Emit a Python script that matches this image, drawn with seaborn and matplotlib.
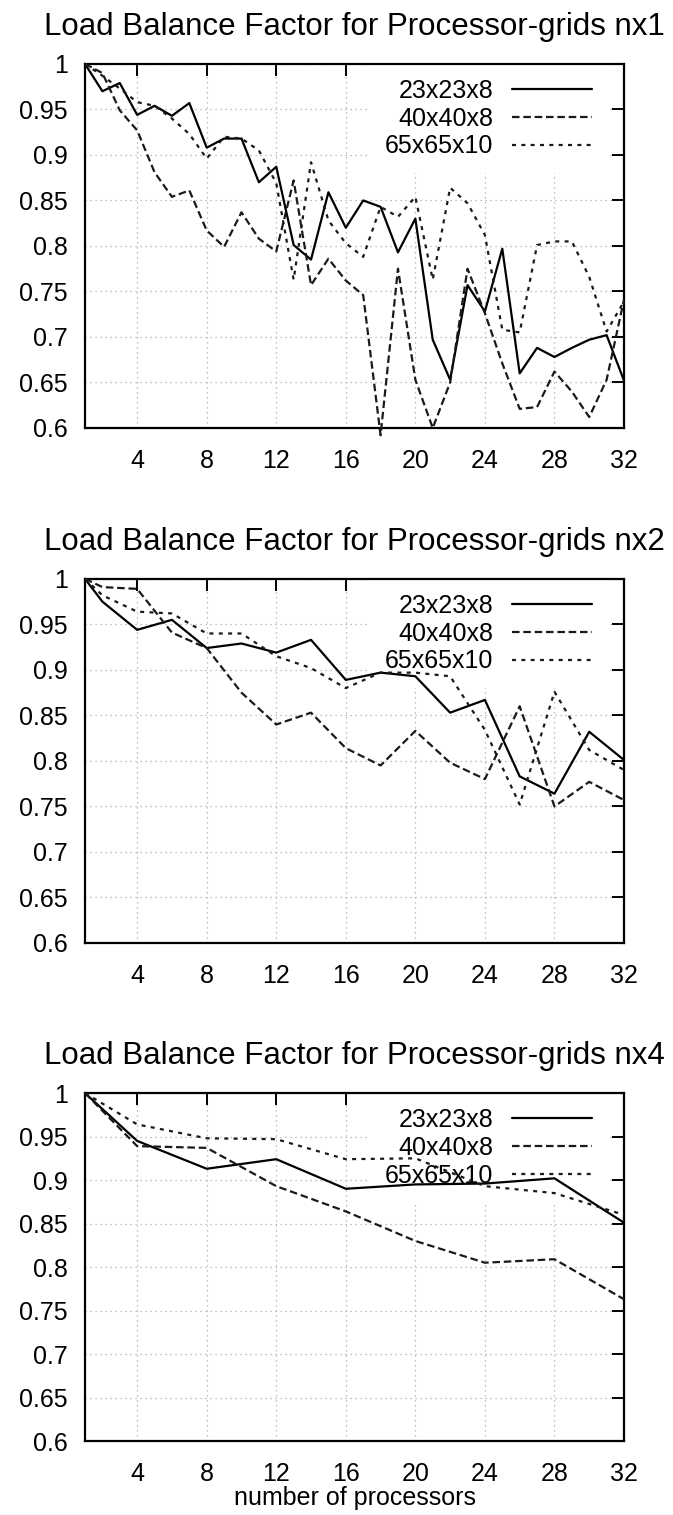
import matplotlib
matplotlib.use("Agg")
import matplotlib.pyplot as plt
import matplotlib.ticker as mticker
import pandas as pd
import seaborn as sns

# ---------------- data ----------------
series_names = ["23x23x8", "40x40x8", "65x65x10"]
panel_titles = ["Load Balance Factor for Processor-grids nx1",
                "Load Balance Factor for Processor-grids nx2",
                "Load Balance Factor for Processor-grids nx4"]
x_label = "number of processors"

x_nx1 = list(range(1, 33))
nx1_23 = [1.000, 0.970, 0.979, 0.944, 0.954, 0.943, 0.957, 0.908, 0.918, 0.918, 0.870, 0.887, 0.801, 0.785, 0.859, 0.820,
          0.850, 0.843, 0.793, 0.830, 0.697, 0.653, 0.757, 0.728, 0.797, 0.660, 0.688, 0.678, 0.688, 0.697, 0.702, 0.652]
nx1_40 = [1.000, 0.990, 0.949, 0.927, 0.881, 0.854, 0.861, 0.817, 0.799, 0.837, 0.808, 0.794, 0.872, 0.757, 0.786, 0.762,
          0.746, 0.592, 0.775, 0.653, 0.600, 0.650, 0.775, 0.726, 0.671, 0.621, 0.623, 0.662, 0.640, 0.612, 0.653, 0.741]
nx1_65 = [1.000, 0.987, 0.973, 0.958, 0.954, 0.940, 0.923, 0.896, 0.920, 0.918, 0.905, 0.869, 0.763, 0.892, 0.828, 0.803,
          0.788, 0.843, 0.832, 0.854, 0.763, 0.864, 0.847, 0.812, 0.708, 0.705, 0.801, 0.805, 0.805, 0.766, 0.706, 0.739]

x_nx2 = [1, 2, 4, 6, 8, 10, 12, 14, 16, 18, 20, 22, 24, 26, 28, 30, 32]
nx2_23 = [1.000, 0.975, 0.944, 0.955, 0.924, 0.929, 0.919, 0.933, 0.889, 0.897, 0.893, 0.853, 0.867, 0.783, 0.764, 0.832, 0.801]
nx2_40 = [1.000, 0.991, 0.989, 0.941, 0.924, 0.875, 0.840, 0.853, 0.814, 0.795, 0.833, 0.798, 0.780, 0.860, 0.750, 0.777, 0.757]
nx2_65 = [1.000, 0.982, 0.964, 0.962, 0.940, 0.940, 0.915, 0.902, 0.880, 0.897, 0.897, 0.893, 0.834, 0.752, 0.876, 0.812, 0.790]

x_nx4 = [1, 4, 8, 12, 16, 20, 24, 28, 32]
nx4_23 = [1.000, 0.945, 0.913, 0.924, 0.890, 0.895, 0.896, 0.902, 0.851]
nx4_40 = [1.000, 0.939, 0.937, 0.893, 0.864, 0.830, 0.805, 0.809, 0.763]
nx4_65 = [1.000, 0.964, 0.948, 0.947, 0.924, 0.925, 0.893, 0.885, 0.860]

x_ticks = [4, 8, 12, 16, 20, 24, 28, 32]
y_ticks = [0.6, 0.65, 0.7, 0.75, 0.8, 0.85, 0.9, 0.95, 1.0]

panels = [
    (x_nx1, [nx1_23, nx1_40, nx1_65]),
    (x_nx2, [nx2_23, nx2_40, nx2_65]),
    (x_nx4, [nx4_23, nx4_40, nx4_65]),
]

# ---------------- style ----------------
sns.set_theme(style="white")
plt.rcParams["font.family"] = ["Liberation Sans", "DejaVu Sans"]

LW = 1.6
line_styles = [
    dict(linestyle="-", color="black"),
    dict(linestyle=(0, (3.4, 1.7)), color="#1a1a1a"),
    dict(linestyle=(0, (1.8, 2.4)), color="#1a1a1a"),
]

fig = plt.figure(figsize=(6.73, 15.15), dpi=100)
positions = [
    [0.1263, 0.7175, 0.8009, 0.2403],
    [0.1263, 0.3776, 0.8009, 0.2403],
    [0.1263, 0.0488, 0.8009, 0.2297],
]

for i, (pos, (xs, ys_list)) in enumerate(zip(positions, panels)):
    ax = fig.add_axes(pos)
    for name, ys, st in zip(series_names, ys_list, line_styles):
        df = pd.DataFrame({"x": xs, "y": ys})
        sns.lineplot(data=df, x="x", y="y", ax=ax, lw=LW, label=name,
                     clip_on=False, zorder=3, **st)
    ax.set_xlim(1, 32)
    ax.set_ylim(0.6, 1.0)
    ax.set_xticks(x_ticks)
    ax.set_yticks(y_ticks)
    ax.yaxis.set_major_formatter(mticker.FuncFormatter(lambda v, p: "%g" % round(v, 2)))
    ax.grid(True, color="#aaaaaa", linestyle=(0, (1, 3)), linewidth=0.9)
    ax.set_axisbelow(True)
    ax.tick_params(direction="in", length=8.5, width=1.4, top=True, right=True,
                   labelsize=18, colors="black")
    ax.tick_params(axis="x", pad=15)
    ax.tick_params(axis="y", pad=12.5)
    for sp in ax.spines.values():
        sp.set_linewidth(1.6)
        sp.set_color("black")
    ax.set_title(panel_titles[i], fontsize=22.5, pad=21, color="black")
    ax.set_ylabel("")
    if i == 2:
        ax.set_xlabel(x_label, fontsize=18, labelpad=0, color="black")
    else:
        ax.set_xlabel("")
    leg = ax.legend(loc="upper right", bbox_to_anchor=(0.9685, 1.0), borderaxespad=0,
                    borderpad=0.6, markerfirst=False, frameon=True, fancybox=False,
                    handlelength=3.2, handletextpad=0.75, labelspacing=0.15,
                    fontsize=18)
    leg.get_frame().set_facecolor("white")
    leg.get_frame().set_edgecolor("none")
    leg.get_frame().set_alpha(1.0)
    leg.set_zorder(2)
    for t in leg.get_texts():
        t.set_color("black")

fig.savefig("out.png", dpi=100)
